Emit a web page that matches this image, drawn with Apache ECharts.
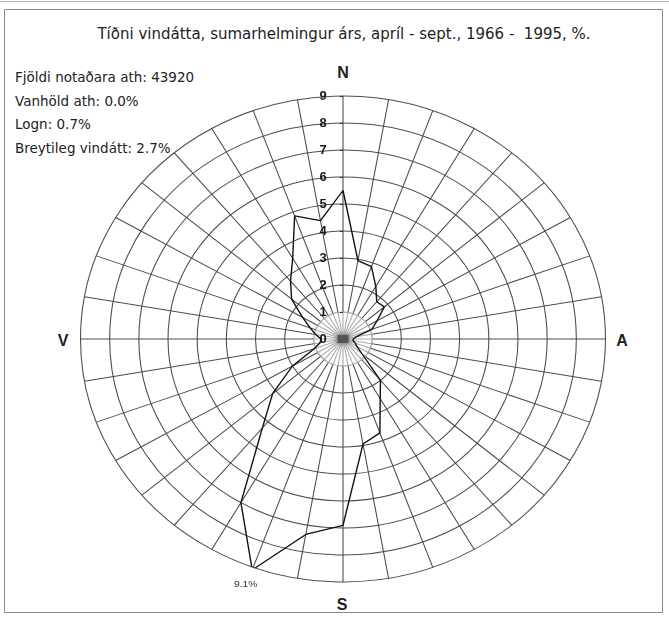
<!DOCTYPE html>
<html>
<head>
<meta charset="utf-8">
<script src="https://cdn.jsdelivr.net/npm/echarts@6.0.0/dist/echarts.min.js"></script>
<style>
  html, body { margin: 0; padding: 0; background: #fff; }
  #page { position: relative; width: 669px; height: 620px; overflow: hidden; }
  #frame { position: absolute; left: 0; top: 0; width: 669px; height: 620px; }
  /* the rose is drawn on a circular polar grid and widened into the printed oval */
  #rose { position: absolute; left: 42.5px; top: 39px; width: 600px; height: 600px;
          transform-origin: 300px 300px; transform: scaleX(1.0802); }
</style>
</head>
<body>
<div id="page">
  <div id="frame"></div>
  <div id="rose"></div>
</div>
<script>
// Wind direction frequency (%), summer half-year, April - September, 1966 - 1995
const chartTitle = 'Tíðni vindátta, sumarhelmingur árs, apríl - sept., 1966 -  1995, %.';
const statLines = [
  'Fjöldi notaðara ath: 43920',
  'Vanhöld ath: 0.0%',
  'Logn: 0.7%',
  'Breytileg vindátt: 2.7%'
];
const compassLabels = ['N', 'A', 'S', 'V'];
const directions = [10, 20, 30, 40, 50, 60, 70, 80, 90, 100, 110, 120,
                    130, 140, 150, 160, 170, 180, 190, 200, 210, 220, 230, 240,
                    250, 260, 270, 280, 290, 300, 310, 320, 330, 340, 350, 360];
const frequency = [2.95, 2.85, 2.25, 1.8, 1.85, 1.35, 1.05, 0.45, 0.35, 0.35, 0.45, 0.55,
                   0.85, 2.0, 2.55, 3.7, 3.95, 6.9, 7.35, 9.1, 7.0, 4.3, 3.15, 2.0,
                   1.05, 0.8, 0.75, 0.95, 1.2, 1.6, 2.3, 2.8, 3.45, 4.85, 4.45, 5.5];
const radiusMax = 9;

// ---- frame, heading and observation counts ----
const frame = echarts.init(document.getElementById('frame'), null, { renderer: 'svg' });
const textFont = 'DejaVu Sans, Verdana, sans-serif';
const compassPos = [[343, 72], [622, 340], [342, 604], [63, 340]];
frame.setOption({
  animation: false,
  graphic: [
    { type: 'line', shape: { x1: 0, y1: 1.5, x2: 669, y2: 1.5 },
      style: { stroke: '#bbb', lineWidth: 1 } },
    { type: 'rect', shape: { x: 4.5, y: 9.5, width: 658, height: 603 },
      style: { fill: 'none', stroke: '#8a8a8a', lineWidth: 1 } },
    { type: 'text', x: 344, y: 34,
      style: { text: chartTitle, font: '15px ' + textFont, fill: '#222',
               align: 'center', verticalAlign: 'middle' } }
  ].concat(statLines.map((t, i) => ({
    type: 'text', x: 15, y: 77 + i * 23.5,
    style: { text: t, font: '13.5px ' + textFont, fill: '#222',
             align: 'left', verticalAlign: 'middle' }
  }))).concat(compassLabels.map((t, i) => ({
    type: 'text', x: compassPos[i][0], y: compassPos[i][1],
    style: { text: t, font: 'bold 16px Liberation Sans, Arial, sans-serif', fill: '#222',
             align: 'center', verticalAlign: 'middle' }
  })))
});

// ---- wind rose ----
const rose = echarts.init(document.getElementById('rose'), null, { renderer: 'svg' });
const peak = Math.max(...frequency);
const roseData = [[frequency[frequency.length - 1], 0]].concat(
  directions.map((d, i) => frequency[i] === peak
    ? { value: [frequency[i], d],
        label: { show: true, position: 'bottom', distance: 9, offset: [-6, 0],
                 formatter: p => p.value[0].toFixed(1) + '%',
                 fontSize: 9.5, fontFamily: 'Liberation Sans, Arial, sans-serif',
                 color: '#333' } }
    : [frequency[i], d])
);
const ringColors = ['#9a9a9a', '#9a9a9a'];
for (let i = 2; i <= radiusMax; i++) ringColors.push('#4d4d4d');

const spokeAxis = (polarIndex, z, extra) => Object.assign({
  polarIndex, type: 'value', min: 0, max: 360, interval: 10,
  startAngle: 90, clockwise: true, z,
  axisLine: { show: false }, axisTick: { show: false }, axisLabel: { show: false },
  splitLine: { show: false }
}, extra);
const plainRadius = (polarIndex, z) => ({
  polarIndex, type: 'value', min: 0, max: 1, z,
  axisLine: { show: false }, axisTick: { show: false }, axisLabel: { show: false },
  splitLine: { show: false }
});

rose.setOption({
  animation: false,
  polar: [
    { center: ['50%', '50%'], radius: 243 },   // full grid
    { center: ['50%', '50%'], radius: 27 },    // blank disc under the inner spokes
    { center: ['50%', '50%'], radius: 27 }     // lighter inner spokes
  ],
  angleAxis: [
    spokeAxis(0, 0, { splitLine: { show: true, lineStyle: { color: '#4d4d4d', width: 1 } } }),
    spokeAxis(1, 1, { splitArea: { show: true, areaStyle: { color: ['#ffffff'] } } }),
    spokeAxis(2, 2, { splitLine: { show: true, lineStyle: { color: '#a9a9a9', width: 1 } } })
  ],
  radiusAxis: [
    { polarIndex: 0, type: 'value', min: 0, max: radiusMax, interval: 1, z: 3,
      axisLine: { show: false },
      axisTick: { show: true, length: 3, lineStyle: { color: '#333' } },
      axisLabel: { show: true, margin: 15, fontSize: 12, fontWeight: 'bold',
                   fontFamily: 'Liberation Sans, Arial, sans-serif', color: '#1a1a1a' },
      splitLine: { show: true, lineStyle: { color: ringColors, width: 1 } } },
    plainRadius(1, 1),
    plainRadius(2, 2)
  ],
  // dark hub where the spokes meet
  graphic: [{ type: 'rect', x: 295, y: 296, z: 4, shape: { width: 10, height: 8 },
              style: { fill: '#555', shadowBlur: 4, shadowColor: '#777' } }],
  series: [{
    type: 'line', coordinateSystem: 'polar', polarIndex: 0,
    data: roseData, symbol: 'circle', symbolSize: 0, clip: false, z: 5,
    itemStyle: { color: '#111' },
    lineStyle: { color: '#111', width: 1.3 }
  }]
});
</script>
</body>
</html>
